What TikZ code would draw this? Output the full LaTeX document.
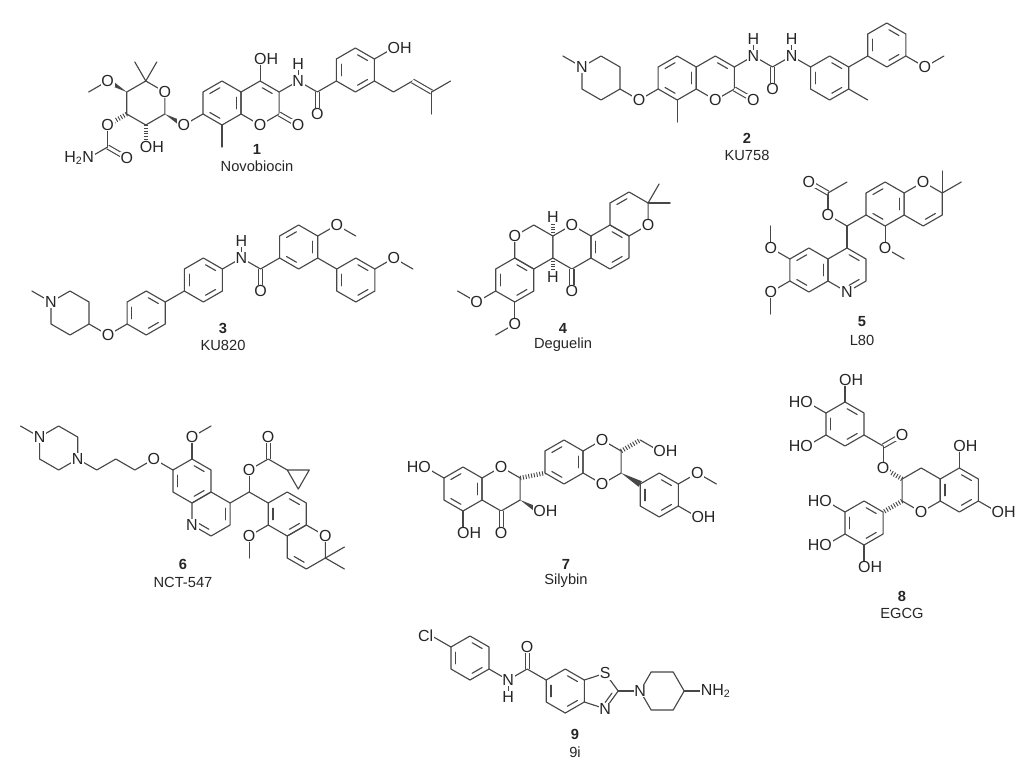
\documentclass[tikz,border=0pt]{standalone}
\usepackage{fontspec}
\setmainfont{Liberation Sans}
\usetikzlibrary{calc}
\def\R{22}
\colorlet{bondc}{black!72}
\tikzset{bond/.style={draw=bondc,line width=0.85pt,line join=round,line cap=round},
 bdb/.style={bond,double,double distance=2.2pt,line cap=butt},
 lab/.style={fill=white,inner sep=0.6pt,text=black!85,font=\fontsize{12}{12}\selectfont},
 numl/.style={text=black!85,font=\fontsize{11}{13}\selectfont\bfseries},
 capl/.style={text=black!85,font=\fontsize{11}{13}\selectfont}}
\newcommand\ring[3]{\coordinate (#1) at #2;
 \foreach \k in {1,...,6}{\coordinate (#1\k) at ($(#1)+({-150+60*\k+#3}:\R)$);}
 \draw[bond] (#11)--(#12)--(#13)--(#14)--(#15)--(#16)--cycle;}
\newcommand\idbp[3]{\coordinate (tmpP) at ($#2!0.15!#3$);\coordinate (tmpQ) at ($#3!0.15!#2$);
 \draw[bond] ($#1!0.75!(tmpP)$) -- ($#1!0.75!(tmpQ)$);}
\newcommand\idb[3]{\idbp{(#1)}{(#1#2)}{(#1#3)}}
\newcommand\nat[3]{\coordinate (#1) at ($(#2)+(#3:\R)$);}
\newcommand\bd[2]{\draw[bond] (#1)--(#2);}
\newcommand\bdd[2]{\draw[bdb] (#1)--(#2);}
\newcommand\lab[2]{\node[lab] at (#1) {#2};}
\newcommand\labR[2]{\node[lab,anchor=west,xshift=-5.2pt] at (#1) {#2};}
\newcommand\labL[2]{\node[lab,anchor=east,xshift=5.2pt] at (#1) {#2};}
\newcommand\Hup[1]{\draw[bond] (#1)--++(0,-15);\node[lab] at ($(#1)+(0,-17)$) {H};}
\newcommand\Hdn[1]{\draw[bond] (#1)--++(0,15);\node[lab] at ($(#1)+(0,17)$) {H};}
\newcommand\wdg[2]{\fill[bondc] ($(#1)$) -- ($(#2)!2.4pt!90:(#1)$) -- ($(#2)!2.4pt!-90:(#1)$) -- cycle;}
\newcommand\hsh[2]{\draw[bondc,line width=3.4pt,dash pattern=on 0.7pt off 1.4pt] (#1)--(#2);}
\begin{document}
\begin{tikzpicture}[x=0.75pt,y=-0.75pt]
\fill[white] (0,0) rectangle (1029,772);
\useasboundingbox (0,0) rectangle (1029,772);
% ---------- 1 Novobiocin
\ring{pA}{(222,103)}{0}
\ring{pB}{($(pA)+(38.105,0)$)}{0}
\idb{pA}{6}{1}\idb{pA}{2}{3}\idb{pA}{4}{5}\idb{pB}{1}{2}
\nat{pOH}{pB1}{-90}\bd{pB1}{pOH}
\nat{pN}{pB2}{-30}\bd{pB2}{pN}
\nat{pO2}{pB3}{30}\bdd{pB3}{pO2}
\nat{pMe}{pA4}{90}\bd{pA4}{pMe}
\nat{pC}{pN}{30}\bd{pN}{pC}
\nat{pCO}{pC}{90}\bdd{pC}{pCO}
\coordinate (pDc) at ($(pC)+(-30:44)$);
\ring{pD}{(pDc)}{0}\bd{pC}{pD5}
\idb{pD}{1}{2}\idb{pD}{3}{4}\idb{pD}{5}{6}
\nat{pOH2}{pD2}{-30}\bd{pD2}{pOH2}
\nat{pq1}{pD3}{30}\nat{pq2}{pq1}{-30}\nat{pq3}{pq2}{30}\nat{pq4}{pq3}{-30}\nat{pq5}{pq3}{90}
\draw[bond] (pD3)--(pq1)--(pq2);\bdd{pq2}{pq3}\bd{pq3}{pq4}\bd{pq3}{pq5}
\nat{pOg}{pA5}{150}\bd{pA5}{pOg}
\coordinate (pSc) at ($(pOg)+(-150:44)$);
\ring{pS}{(pSc)}{0}
\wdg{pS3}{pOg}
\nat{pm1}{pS1}{-120}\nat{pm2}{pS1}{-60}\bd{pS1}{pm1}\bd{pS1}{pm2}
\nat{pO4}{pS6}{-150}\wdg{pS6}{pO4}\nat{pMe4}{pO4}{150}\bd{pO4}{pMe4}
\nat{pO3}{pS5}{150}\hsh{pS5}{pO3}\nat{pCc}{pO3}{90}\bd{pO3}{pCc}
\nat{pCo}{pCc}{30}\bdd{pCc}{pCo}\nat{pNH}{pCc}{150}\bd{pCc}{pNH}
\nat{pOH3}{pS4}{90}\hsh{pS4}{pOH3}
\Hup{pN}
\lab{pB4}{O}\lab{pO2}{O}\labR{pOH}{OH}\lab{pN}{N}\lab{pCO}{O}\labR{pOH2}{OH}
\lab{pOg}{O}\lab{pS2}{O}\lab{pO4}{O}\lab{pO3}{O}\lab{pCo}{O}
\node[lab,anchor=east,xshift=4.8pt] at (pNH) {H\textsubscript{2}N};
\labR{pOH3}{OH}
\node[numl] (n1) at (257,149) {1};
\node[capl] (c1) at (257,166) {Novobiocin};
% ---------- 2 KU758
\ring{qP}{(601,78)}{0}
\nat{qMe}{qP6}{-150}\bd{qP6}{qMe}
\nat{qO}{qP3}{30}\bd{qP3}{qO}
\coordinate (qAc) at ($(qO)+(-30:44)$);
\ring{qA}{(qAc)}{0}\bd{qO}{qA5}
\ring{qB}{($(qA)+(38.105,0)$)}{0}
\idb{qA}{6}{1}\idb{qA}{2}{3}\idb{qA}{4}{5}\idb{qB}{1}{2}
\nat{qMe2}{qA4}{90}\bd{qA4}{qMe2}
\nat{qO2}{qB3}{30}\bdd{qB3}{qO2}
\nat{qN1}{qB2}{-30}\bd{qB2}{qN1}
\nat{qC}{qN1}{30}\bd{qN1}{qC}
\nat{qCO}{qC}{90}\bdd{qC}{qCO}
\nat{qN2}{qC}{-30}\bd{qC}{qN2}
\coordinate (qTc) at ($(qN2)+(30:44)$);
\ring{qT}{(qTc)}{0}\bd{qN2}{qT6}
\idb{qT}{1}{2}\idb{qT}{3}{4}\idb{qT}{5}{6}
\nat{qMe3}{qT3}{30}\bd{qT3}{qMe3}
\coordinate (qUc) at ($(qT2)+(-30:44)$);
\ring{qU}{(qUc)}{0}\bd{qT2}{qU5}
\idb{qU}{1}{2}\idb{qU}{3}{4}\idb{qU}{5}{6}
\nat{qO3}{qU3}{30}\bd{qU3}{qO3}\nat{qMe4}{qO3}{-30}\bd{qO3}{qMe4}
\Hup{qN1}\Hup{qN2}
\lab{qP6}{N}\lab{qO}{O}\lab{qB4}{O}\lab{qO2}{O}\lab{qN1}{N}\lab{qCO}{O}\lab{qN2}{N}\lab{qO3}{O}
\node[numl] (n2) at (747,138) {2};
\node[capl] (c2) at (747,155) {KU758};
% ---------- 3 KU820
\ring{rP}{(70,313)}{0}
\nat{rMe}{rP6}{-150}\bd{rP6}{rMe}
\nat{rO}{rP3}{30}\bd{rP3}{rO}
\coordinate (rAc) at ($(rO)+(-30:44)$);
\ring{rA}{(rAc)}{0}\bd{rO}{rA5}
\coordinate (rBc) at ($(rA2)+(-30:44)$);
\ring{rB}{(rBc)}{0}\bd{rA2}{rB5}
\nat{rN}{rB2}{-30}\bd{rB2}{rN}
\nat{rC}{rN}{30}\bd{rN}{rC}
\nat{rCO}{rC}{90}\bdd{rC}{rCO}
\coordinate (rQc) at ($(rC)+(-30:44)$);
\ring{rQ}{(rQc)}{0}\bd{rC}{rQ5}
\nat{rO2}{rQ2}{-30}\bd{rQ2}{rO2}\nat{rM2}{rO2}{30}\bd{rO2}{rM2}
\coordinate (rWc) at ($(rQ3)+(30:44)$);
\ring{rW}{(rWc)}{0}\bd{rQ3}{rW6}
\nat{rO3}{rW2}{-30}\bd{rW2}{rO3}\nat{rM3}{rO3}{30}\bd{rO3}{rM3}
\idb{rA}{1}{2}\idb{rA}{3}{4}\idb{rA}{5}{6}
\idb{rB}{1}{2}\idb{rB}{3}{4}\idb{rB}{5}{6}
\idb{rQ}{6}{1}\idb{rQ}{2}{3}\idb{rQ}{4}{5}
\idb{rW}{1}{2}\idb{rW}{3}{4}\idb{rW}{5}{6}
\Hup{rN}
\lab{rP6}{N}\lab{rO}{O}\lab{rN}{N}\lab{rCO}{O}\lab{rO2}{O}\lab{rO3}{O}
\node[numl] (n3) at (223,328) {3};
\node[capl] (c3) at (223,345) {KU820};
% ---------- 4 Deguelin
\ring{sM}{(610,247)}{0}
\ring{sH}{($(sM)+(19.05,-33)$)}{0}
\ring{sC}{($(sM)+(-38.105,0)$)}{0}
\ring{sB}{($(sC)+(-38.105,0)$)}{0}
\ring{sL}{($(sB)+(-19.05,33)$)}{0}
\idb{sM}{5}{6}\idb{sM}{3}{4}\idb{sM}{1}{2}\idb{sH}{6}{1}
\idb{sL}{1}{2}\idb{sL}{3}{4}\idb{sL}{5}{6}
\nat{sm1}{sH2}{-60}\nat{sm2}{sH2}{0}\bd{sH2}{sm1}\bd{sH2}{sm2}
\nat{sOk}{sC4}{90}\bdd{sC4}{sOk}
\coordinate (sHa) at ($(sC6)+(0,-19)$);\hsh{sC6}{sHa}
\coordinate (sHb) at ($(sC5)+(0,19)$);\hsh{sC5}{sHb}
\nat{sO1}{sL5}{150}\bd{sL5}{sO1}\nat{sMe1}{sO1}{-150}\bd{sO1}{sMe1}
\nat{sO2}{sL4}{90}\bd{sL4}{sO2}\nat{sMe2}{sO2}{150}\bd{sO2}{sMe2}
\lab{sB6}{O}\lab{sC1}{O}\lab{sH3}{O}\lab{sOk}{O}\lab{sO1}{O}\lab{sO2}{O}\lab{sHa}{H}\lab{sHb}{H}
\node[numl] (n4) at (563,328) {4};
\node[capl] (c4) at (563,345) {Deguelin};
% ---------- 5 L80
\ring{tP}{(847,270)}{0}
\ring{tZ}{($(tP)+(-38.105,0)$)}{0}
\idb{tP}{1}{2}\idb{tP}{3}{4}\idb{tZ}{2}{3}\idb{tZ}{4}{5}\idb{tZ}{6}{1}
\nat{tO1}{tZ6}{-150}\bd{tZ6}{tO1}\nat{tM1}{tO1}{-90}\bd{tO1}{tM1}
\nat{tO2}{tZ5}{150}\bd{tZ5}{tO2}\nat{tM2}{tO2}{90}\bd{tO2}{tM2}
\nat{tCH}{tP1}{-90}\bd{tP1}{tCH}
\nat{tOe}{tCH}{-150}\bd{tCH}{tOe}
\nat{tCe}{tOe}{-90}\bd{tOe}{tCe}
\nat{tCo}{tCe}{-150}\bdd{tCe}{tCo}
\nat{tMe}{tCe}{-30}\bd{tCe}{tMe}
\coordinate (tEc) at ($(tCH)+(-30:44)$);
\ring{tE}{(tEc)}{0}\bd{tCH}{tE5}
\ring{tF}{($(tE)+(38.105,0)$)}{0}
\idb{tE}{2}{3}\idb{tE}{4}{5}\idb{tE}{6}{1}\idb{tF}{3}{4}
\nat{tO3}{tE4}{90}\bd{tE4}{tO3}\nat{tM3}{tO3}{30}\bd{tO3}{tM3}
\nat{tm1}{tF2}{-30}\nat{tm2}{tF2}{-90}\bd{tF2}{tm1}\bd{tF2}{tm2}
\lab{tP4}{N}\lab{tO1}{O}\lab{tO2}{O}\lab{tOe}{O}\lab{tCo}{O}\lab{tF1}{O}\lab{tO3}{O}
\node[numl] (n5) at (862,322) {5};
\node[capl] (c5) at (862,340) {L80};
% ---------- 6 NCT-547
\ring{uZ}{(192,481)}{0}
\ring{uP}{($(uZ)+(19.05,33)$)}{0}
\idb{uZ}{1}{2}\idb{uZ}{3}{4}\idb{uZ}{5}{6}\idb{uP}{2}{3}\idb{uP}{4}{5}
\nat{uOm}{uZ1}{-90}\bd{uZ1}{uOm}\nat{uMm}{uOm}{-30}\bd{uOm}{uMm}
\nat{uO}{uZ6}{-150}\bd{uZ6}{uO}
\nat{uc3}{uO}{150}\nat{uc2}{uc3}{-150}\nat{uc1}{uc2}{150}\nat{uN4}{uc1}{-150}
\draw[bond] (uO)--(uc3)--(uc2)--(uc1)--(uN4);
\coordinate (uQc) at ($(uN4)+(-150:22)$);
\ring{uQ}{(uQc)}{0}
\nat{uMe}{uQ6}{-150}\bd{uQ6}{uMe}
\nat{uCH}{uP2}{-30}\bd{uP2}{uCH}
\nat{uOe}{uCH}{-90}\bd{uCH}{uOe}
\nat{uCe}{uOe}{-30}\bd{uOe}{uCe}
\nat{uCo}{uCe}{-90}\bdd{uCe}{uCo}
\nat{uCp}{uCe}{30}\bd{uCe}{uCp}
\nat{uCp2}{uCp}{0}\nat{uCp3}{uCp}{60}
\draw[bond] (uCp)--(uCp2)--(uCp3)--cycle;
\coordinate (uGc) at ($(uCH)+(30:44)$);
\ring{uG}{(uGc)}{0}\bd{uCH}{uG6}
\ring{uH}{($(uG)+(19.05,33)$)}{0}
\idb{uG}{1}{2}\idb{uG}{3}{4}\idb{uG}{5}{6}\idb{uH}{4}{5}
\nat{uOm2}{uG5}{150}\bd{uG5}{uOm2}\nat{uMm2}{uOm2}{90}\bd{uOm2}{uMm2}
\nat{ug1}{uH3}{-30}\nat{ug2}{uH3}{30}\bd{uH3}{ug1}\bd{uH3}{ug2}
\lab{uP5}{N}\lab{uOm}{O}\lab{uO}{O}\lab{uQ3}{N}\lab{uQ6}{N}\lab{uOe}{O}\lab{uCo}{O}\lab{uH2}{O}\lab{uOm2}{O}
\node[numl] (n6) at (183,564) {6};
\node[capl] (c6) at (183,582) {NCT-547};
% ---------- 7 Silybin
\ring{vA}{(463,489)}{0}
\ring{vC}{($(vA)+(38.105,0)$)}{0}
\idb{vA}{6}{1}\idb{vA}{2}{3}\idb{vA}{4}{5}
\nat{vHO}{vA6}{-150}\bd{vA6}{vHO}
\nat{vOH}{vA4}{90}\bd{vA4}{vOH}
\nat{vOk}{vC4}{90}\bdd{vC4}{vOk}
\nat{vOH2}{vC3}{30}\wdg{vC3}{vOH2}
\ring{vD}{(564,462)}{0}
\ring{vE}{($(vD)+(38.105,0)$)}{0}
\idb{vD}{6}{1}\idb{vD}{2}{3}\idb{vD}{4}{5}
\hsh{vC2}{vD5}
\nat{vCH2}{vE2}{-30}\hsh{vE2}{vCH2}
\nat{vOH3}{vCH2}{30}\bd{vCH2}{vOH3}
\coordinate (vFc) at ($(vE3)+(30:44)$);
\ring{vF}{(vFc)}{0}\wdg{vE3}{vF6}
\idb{vF}{1}{2}\idb{vF}{3}{4}\idb{vF}{5}{6}
\nat{vO4}{vF2}{-30}\bd{vF2}{vO4}\nat{vMe}{vO4}{30}\bd{vO4}{vMe}
\nat{vOH4}{vF3}{30}\bd{vF3}{vOH4}
\labL{vHO}{HO}\labR{vOH}{OH}\labR{vOH2}{OH}\labR{vOH3}{OH}\labR{vOH4}{OH}
\lab{vC1}{O}\lab{vE1}{O}\lab{vE4}{O}\lab{vOk}{O}\lab{vO4}{O}
\node[numl] (n7) at (566,564) {7};
\node[capl] (c7) at (566,581) {Silybin};
% ---------- 8 EGCG
\ring{wG}{(845,424)}{0}
\idb{wG}{1}{2}\idb{wG}{3}{4}\idb{wG}{5}{6}
\nat{wOH1}{wG1}{-90}\bd{wG1}{wOH1}
\nat{wHO2}{wG6}{-150}\bd{wG6}{wHO2}
\nat{wHO3}{wG5}{150}\bd{wG5}{wHO3}
\nat{wK}{wG3}{30}\bd{wG3}{wK}
\nat{wCo}{wK}{-30}\bdd{wK}{wCo}
\nat{wO}{wK}{90}\bd{wK}{wO}
\coordinate (wRc) at ($(wO)+(30:44)$);
\ring{wR}{(wRc)}{0}\hsh{wR6}{wO}
\ring{wA}{($(wR)+(38.105,0)$)}{0}
\idb{wA}{5}{6}\idb{wA}{1}{2}\idb{wA}{3}{4}
\nat{wOH5}{wA1}{-90}\bd{wA1}{wOH5}
\nat{wOH7}{wA3}{30}\bd{wA3}{wOH7}
\coordinate (wBc) at ($(wR5)+(150:44)$);
\ring{wB}{(wBc)}{0}\hsh{wR5}{wB2}
\idb{wB}{1}{2}\idb{wB}{3}{4}\idb{wB}{5}{6}
\nat{wHO4}{wB6}{-150}\bd{wB6}{wHO4}
\nat{wHO5}{wB5}{150}\bd{wB5}{wHO5}
\nat{wOH6}{wB4}{90}\bd{wB4}{wOH6}
\labR{wOH1}{OH}\labL{wHO2}{HO}\labL{wHO3}{HO}\lab{wCo}{O}\lab{wO}{O}\lab{wR4}{O}
\labR{wOH5}{OH}\labR{wOH7}{OH}\labL{wHO4}{HO}\labL{wHO5}{HO}\labR{wOH6}{OH}
\node[numl] (n8) at (902,596) {8};
\node[capl] (c8) at (902,613) {EGCG};
% ---------- 9
\ring{xA}{(470,658)}{0}
\idb{xA}{1}{2}\idb{xA}{3}{4}\idb{xA}{5}{6}
\nat{xCl}{xA6}{-150}\bd{xA6}{xCl}
\nat{xN}{xA3}{30}\bd{xA3}{xN}
\nat{xC}{xN}{-30}\bd{xN}{xC}
\nat{xCo}{xC}{-90}\bdd{xC}{xCo}
\coordinate (xBc) at ($(xC)+(30:44)$);
\ring{xB}{(xBc)}{0}\bd{xC}{xB6}
\idb{xB}{1}{2}\idb{xB}{3}{4}\idb{xB}{5}{6}
\nat{xS}{xB2}{-18}\nat{xNz}{xB3}{18}\nat{xC2}{xS}{54}
\draw[bond] (xB2)--(xS)--(xC2)--(xNz)--(xB3);
\coordinate (xM) at ($(xB2)!0.5!(xB3)$);
\coordinate (xT) at ($(xM)+(15.1,0)$);
\idbp{(xT)}{(xC2)}{(xNz)}
\nat{xNp}{xC2}{0}\bd{xC2}{xNp}
\coordinate (xPc) at ($(xNp)+(0:22)$);
\ring{xP}{(xPc)}{30}
\nat{xNH}{xP2}{0}\bd{xP2}{xNH}
\Hdn{xN}
\node[lab,anchor=east,xshift=1.8pt] at (xCl) {Cl};
\lab{xN}{N}\lab{xCo}{O}\lab{xS}{S}\lab{xNz}{N}\lab{xNp}{N}
\node[lab,anchor=west,xshift=-4.8pt] at (xNH) {NH\textsubscript{2}};
\node[numl] (n9) at (575,734) {9};
\node[capl] (c9) at (575,752) {9i};
\end{tikzpicture}
\end{document}
